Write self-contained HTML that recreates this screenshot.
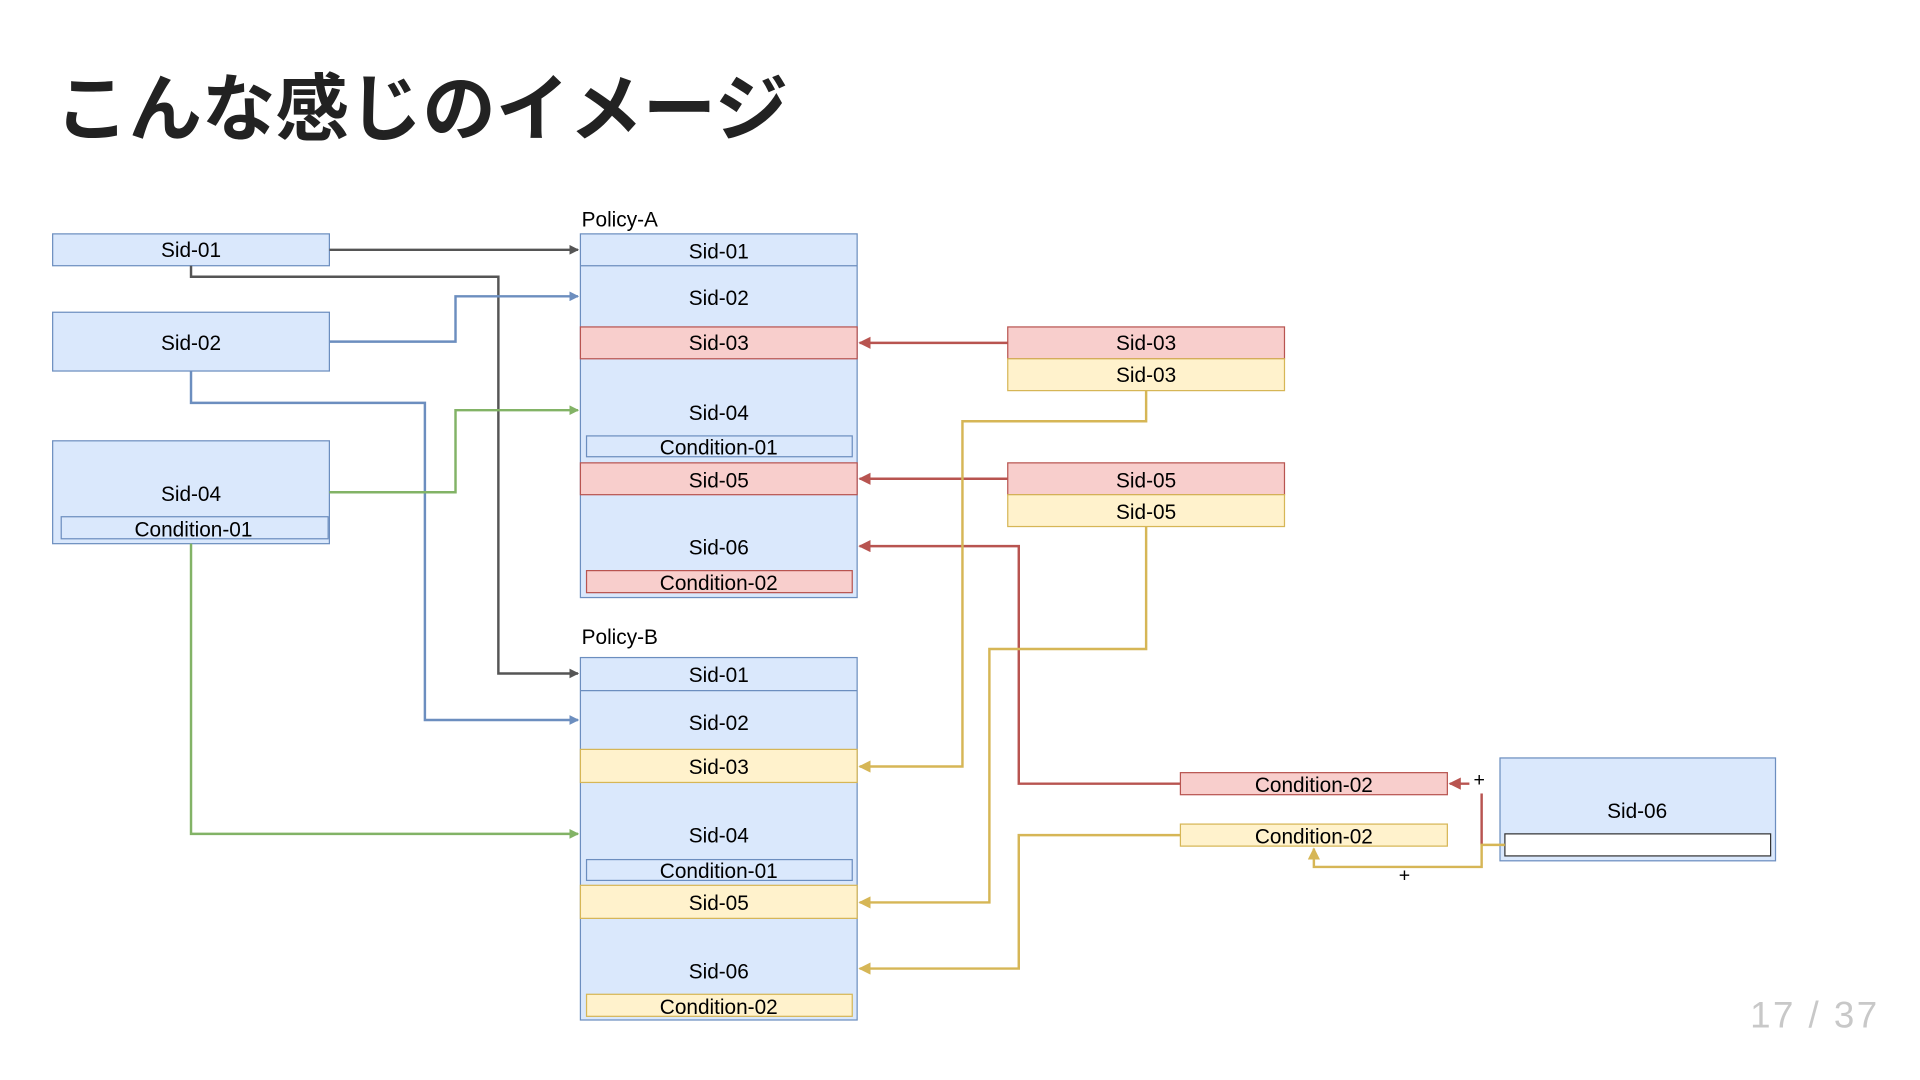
<!DOCTYPE html>
<html><head><meta charset="utf-8"><style>
html,body{margin:0;padding:0;background:#fff;}
svg{display:block;}
text{font-family:"Liberation Sans","Noto Sans CJK JP",sans-serif;}
</style></head><body>
<svg width="1920" height="1080" viewBox="0 0 1568 882" xmlns="http://www.w3.org/2000/svg">
<defs>
<marker id="ag" markerWidth="8" markerHeight="8" refX="7" refY="4" orient="auto" markerUnits="userSpaceOnUse"><path d="M0,0 L8,4 L0,8 Z" fill="#555"/></marker>
<marker id="ab" markerWidth="8" markerHeight="8" refX="7" refY="4" orient="auto" markerUnits="userSpaceOnUse"><path d="M0,0 L8,4 L0,8 Z" fill="#6c8ebf"/></marker>
<marker id="agr" markerWidth="8" markerHeight="8" refX="7" refY="4" orient="auto" markerUnits="userSpaceOnUse"><path d="M0,0 L8,4 L0,8 Z" fill="#82b366"/></marker>
<marker id="ar" markerWidth="10" markerHeight="10" refX="9" refY="5" orient="auto" markerUnits="userSpaceOnUse"><path d="M0,0 L10,5 L0,10 Z" fill="#b85450"/></marker>
<marker id="ay" markerWidth="10" markerHeight="10" refX="9" refY="5" orient="auto" markerUnits="userSpaceOnUse"><path d="M0,0 L10,5 L0,10 Z" fill="#d6b656"/></marker>
</defs>
<text x="45" y="110" font-size="60" font-weight="bold" fill="#222">こんな感じのイメージ</text>

<g stroke-width="1" font-size="17" text-anchor="middle" fill="#000">
<rect x="43" y="191" width="226" height="26" fill="#dae8fc" stroke="#6c8ebf"/>
<text x="156" y="210" stroke="none">Sid-01</text>
<rect x="43" y="255" width="226" height="48" fill="#dae8fc" stroke="#6c8ebf"/>
<text x="156" y="286" stroke="none">Sid-02</text>
<rect x="43" y="360" width="226" height="84" fill="#dae8fc" stroke="#6c8ebf"/>
<text x="156" y="409" stroke="none">Sid-04</text>
<rect x="50" y="422" width="218" height="18" fill="#dae8fc" stroke="#6c8ebf"/>
<text x="158" y="438" stroke="none">Condition-01</text>

<text x="475" y="185" text-anchor="start" stroke="none">Policy-A</text>
<rect x="474" y="191" width="226" height="297" fill="#dae8fc" stroke="#6c8ebf"/>
<line x1="474" y1="217" x2="700" y2="217" stroke="#6c8ebf"/>
<text x="587" y="211">Sid-01</text>
<text x="587" y="249">Sid-02</text>
<rect x="474" y="267" width="226" height="26" fill="#f8cecc" stroke="#b85450"/>
<text x="587" y="286">Sid-03</text>
<text x="587" y="343">Sid-04</text>
<rect x="479" y="356" width="217" height="17" fill="#dae8fc" stroke="#6c8ebf"/>
<text x="587" y="371">Condition-01</text>
<rect x="474" y="378" width="226" height="26" fill="#f8cecc" stroke="#b85450"/>
<text x="587" y="398">Sid-05</text>
<text x="587" y="453">Sid-06</text>
<rect x="479" y="466" width="217" height="18" fill="#f8cecc" stroke="#b85450"/>
<text x="587" y="482">Condition-02</text>

<text x="475" y="526" text-anchor="start">Policy-B</text>
<rect x="474" y="537" width="226" height="296" fill="#dae8fc" stroke="#6c8ebf"/>
<line x1="474" y1="564" x2="700" y2="564" stroke="#6c8ebf"/>
<text x="587" y="557">Sid-01</text>
<text x="587" y="596">Sid-02</text>
<rect x="474" y="612" width="226" height="27" fill="#fff2cc" stroke="#d6b656"/>
<text x="587" y="632">Sid-03</text>
<text x="587" y="688">Sid-04</text>
<rect x="479" y="702" width="217" height="17" fill="#dae8fc" stroke="#6c8ebf"/>
<text x="587" y="717">Condition-01</text>
<rect x="474" y="723" width="226" height="27" fill="#fff2cc" stroke="#d6b656"/>
<text x="587" y="743">Sid-05</text>
<text x="587" y="799">Sid-06</text>
<rect x="479" y="812" width="217" height="18" fill="#fff2cc" stroke="#d6b656"/>
<text x="587" y="828">Condition-02</text>

<rect x="823" y="267" width="226" height="26" fill="#f8cecc" stroke="#b85450"/>
<text x="936" y="286">Sid-03</text>
<rect x="823" y="293" width="226" height="26" fill="#fff2cc" stroke="#d6b656"/>
<text x="936" y="312">Sid-03</text>
<rect x="823" y="378" width="226" height="26" fill="#f8cecc" stroke="#b85450"/>
<text x="936" y="398">Sid-05</text>
<rect x="823" y="404" width="226" height="26" fill="#fff2cc" stroke="#d6b656"/>
<text x="936" y="424">Sid-05</text>

<rect x="964" y="631" width="218" height="18" fill="#f8cecc" stroke="#b85450"/>
<text x="1073" y="647">Condition-02</text>
<rect x="964" y="673" width="218" height="18" fill="#fff2cc" stroke="#d6b656"/>
<text x="1073" y="689">Condition-02</text>

<rect x="1225" y="619" width="225" height="84" fill="#dae8fc" stroke="#6c8ebf"/>
<text x="1337" y="668">Sid-06</text>
<rect x="1229" y="681" width="217" height="18" fill="#fff" stroke="#333"/>
</g>

<g fill="none" stroke-width="2">
<path d="M269,204 H472" stroke="#555" marker-end="url(#ag)"/>
<path d="M156,217 V226 H407 V550 H472" stroke="#555" marker-end="url(#ag)"/>
<path d="M269,279 H372 V242 H472" stroke="#6c8ebf" marker-end="url(#ab)"/>
<path d="M156,303 V329 H347 V588 H472" stroke="#6c8ebf" marker-end="url(#ab)"/>
<path d="M269,402 H372 V335 H472" stroke="#82b366" marker-end="url(#agr)"/>
<path d="M156,444 V681 H472" stroke="#82b366" marker-end="url(#agr)"/>

<path d="M823,280 H702" stroke="#b85450" marker-end="url(#ar)"/>
<path d="M823,391 H702" stroke="#b85450" marker-end="url(#ar)"/>
<path d="M964,640 H832 V446 H702" stroke="#b85450" marker-end="url(#ar)"/>
<path d="M1200,640 H1184" stroke="#b85450" marker-end="url(#ar)"/>
<path d="M1210,648 V690" stroke="#b85450"/>

<path d="M936,319 V344 H786 V626 H702" stroke="#d6b656" marker-end="url(#ay)"/>
<path d="M936,430 V530 H808 V737 H702" stroke="#d6b656" marker-end="url(#ay)"/>
<path d="M964,682 H832 V791 H702" stroke="#d6b656" marker-end="url(#ay)"/>
<path d="M1229,690 H1210 V708 H1073 V693" stroke="#d6b656" marker-end="url(#ay)"/>
</g>
<text x="1208" y="642" font-size="16" text-anchor="middle" fill="#000">+</text>
<text x="1147" y="720" font-size="16" text-anchor="middle" fill="#000">+</text>

<text x="1535" y="839" font-size="30" text-anchor="end" letter-spacing="2" fill="#c8c8c8">17 / 37</text>
</svg>
</body></html>
